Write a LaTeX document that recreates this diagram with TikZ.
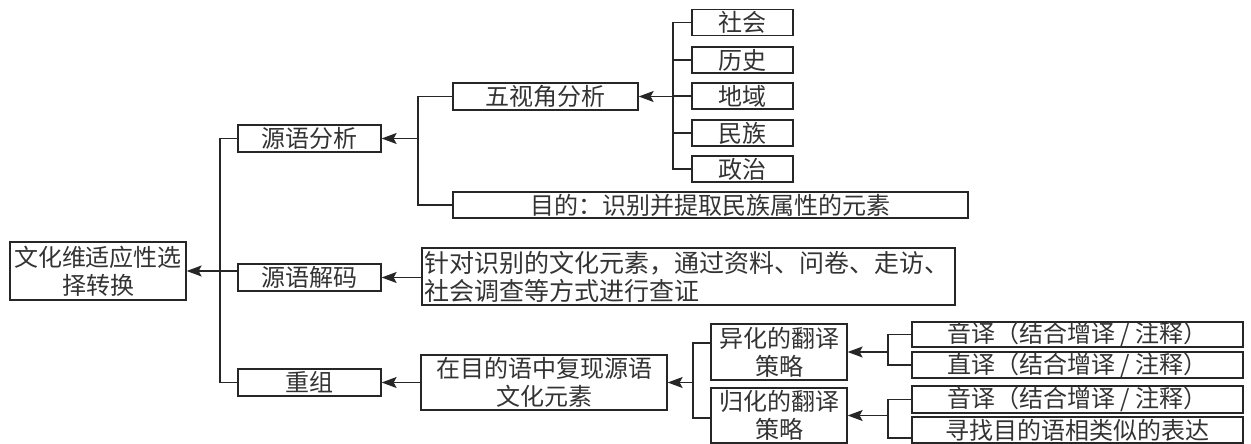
\documentclass[tikz,border=0pt]{standalone}
\usepackage{fontspec}
\setmainfont{Noto Sans CJK SC}
\usetikzlibrary{arrows.meta}
\begin{document}
\begin{tikzpicture}[x=1pt,y=-1pt,
  bx/.style={draw=black!85,line width=1.3pt,inner sep=0pt,align=center,
    font=\fontsize{24}{28}\selectfont,text=black!80},
  ln/.style={line width=1.3pt,draw=black!85},
  arr/.style={ln,-{Stealth[length=15pt,width=11pt,inset=3pt]}}]
\useasboundingbox (0,0) rectangle (1251,444);
% level 0 and 1
\node[bx,minimum width=176pt,minimum height=58pt] (root) at (98,271) {文化维适应性选\\择转换};
\node[bx,minimum width=143pt,minimum height=27pt] (a1) at (309.5,138.5) {源语分析};
\node[bx,minimum width=143pt,minimum height=27pt] (a2) at (309.5,277.5) {源语解码};
\node[bx,minimum width=143pt,minimum height=27pt] (a3) at (309.5,382.5) {重组};
% analysis branch
\node[bx,minimum width=185pt,minimum height=27pt] (b1) at (545.5,96.5) {五视角分析};
\node[bx,minimum width=515pt,minimum height=26pt] (b2) at (710.5,205) {目的：识别并提取民族属性的元素};
\node[bx,minimum width=101pt,minimum height=26pt] (c1) at (742.5,22.5) {社会};
\node[bx,minimum width=101pt,minimum height=26pt] (c2) at (742.5,60) {历史};
\node[bx,minimum width=101pt,minimum height=26pt] (c3) at (742.5,96) {地域};
\node[bx,minimum width=101pt,minimum height=26pt] (c4) at (742.5,133) {民族};
\node[bx,minimum width=101pt,minimum height=26pt] (c5) at (742.5,169) {政治};
% decoding branch
\node[bx,minimum width=533pt,minimum height=57pt,align=left,text width=529pt,
  font=\fontsize{25}{28}\selectfont] (d) at (688.5,276.5)
  {针对识别的文化元素，通过资料、问卷、走访、\\社会调查等方式进行查证};
% recombination branch
\node[bx,minimum width=246pt,minimum height=55pt] (e) at (544,382.5) {在目的语中复现源语\\文化元素};
\node[bx,minimum width=136pt,minimum height=56pt] (f1) at (779,352) {异化的翻译\\策略};
\node[bx,minimum width=136pt,minimum height=55pt] (f2) at (779,415.5) {归化的翻译\\策略};
\node[bx,minimum width=331pt,minimum height=25pt] (g1) at (1077.5,334.5) {音译（结合增译 / 注释）};
\node[bx,minimum width=331pt,minimum height=26pt] (g2) at (1077.5,365) {直译（结合增译 / 注释）};
\node[bx,minimum width=331pt,minimum height=27pt] (g3) at (1077.5,399.5) {音译（结合增译 / 注释）};
\node[bx,minimum width=331pt,minimum height=26pt] (g4) at (1077.5,430) {寻找目的语相类似的表达};
% bracket coordinates
\coordinate (t0) at (220,0);
\coordinate (t1) at (418,0);
\coordinate (t2) at (673,0);
\coordinate (t3) at (693,0);
\coordinate (t4) at (888,0);
\coordinate (f1w) at ([yshift=9pt]f1.west);
\coordinate (f2w) at ([yshift=-2.5pt]f2.west);
\coordinate (g4w) at ([yshift=-8pt]g4.west);
% trunk
\draw[ln] (a1.west) -- (t0 |- a1.west) -- (t0 |- a3.west) -- (a3.west);
\draw[arr] (a2.west |- root.east) -- (root.east);
% analysis
\draw[ln] (b1.west) -- (t1 |- b1.west) -- (t1 |- b2.west) -- (b2.west);
\draw[arr] (t1 |- a1.east) -- (a1.east);
\draw[ln] (c1.west) -- (t2 |- c1.west) -- (t2 |- c5.west) -- (c5.west);
\draw[ln] (c2.west) -- (t2 |- c2.west);
\draw[ln] (c3.west) -- (t2 |- c3.west);
\draw[ln] (c4.west) -- (t2 |- c4.west);
\draw[arr] (t2 |- b1.east) -- (b1.east);
% decoding
\draw[arr] (d.west |- a2.east) -- (a2.east);
% recombination
\draw[arr] (e.west |- a3.east) -- (a3.east);
\draw[ln] (f1w) -- (t3 |- f1w) -- (t3 |- f2w) -- (f2w);
\draw[arr] (t3 |- e.east) -- (e.east);
\draw[ln] (g1.west) -- (t4 |- g1.west) -- (t4 |- g2.west) -- (g2.west);
\draw[arr] (t4 |- f1.east) -- (f1.east);
\draw[ln] (g3.west) -- (t4 |- g3.west) -- (t4 |- g4w) -- (g4w);
\draw[arr] (t4 |- f2.east) -- (f2.east);
\end{tikzpicture}
\end{document}
